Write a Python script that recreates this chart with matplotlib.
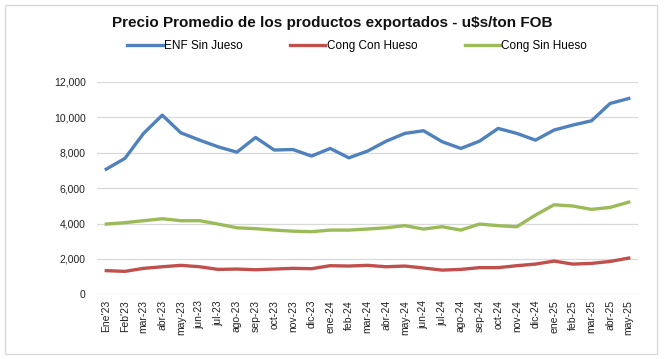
import matplotlib.pyplot as plt
from matplotlib.patches import Rectangle
from matplotlib.ticker import FuncFormatter

plt.rcParams['font.family'] = ['Liberation Sans', 'DejaVu Sans']

meses = ["Ene'23", "Feb'23", "mar-23", "abr-23", "may-23", "jun-23", "jul-23",
         "ago-23", "sep-23", "oct-23", "nov-23", "dic-23", "ene-24", "feb-24",
         "mar-24", "abr-24", "may-24", "jun-24", "jul-24", "ago-24", "sep-24",
         "oct-24", "nov-24", "dic-24", "ene-25", "feb-25", "mar-25", "abr-25",
         "may-25"]

enf_sin_hueso = [7070, 7680, 9090, 10120, 9120, 8710, 8330, 8030, 8860, 8150,
                 8180, 7810, 8240, 7710, 8090, 8650, 9090, 9240, 8620, 8240,
                 8650, 9370, 9090, 8710, 9280, 9560, 9800, 10780, 11060]
cong_con_hueso = [1340, 1300, 1470, 1560, 1640, 1560, 1410, 1430, 1390, 1430,
                  1470, 1450, 1620, 1600, 1640, 1560, 1600, 1490, 1370, 1410,
                  1510, 1510, 1620, 1710, 1880, 1710, 1750, 1860, 2050]
cong_sin_hueso = [3970, 4050, 4160, 4270, 4160, 4160, 3970, 3760, 3710, 3630,
                  3570, 3540, 3630, 3630, 3690, 3760, 3880, 3690, 3820, 3630,
                  3970, 3880, 3820, 4480, 5060, 4990, 4800, 4910, 5210]

fig = plt.figure(figsize=(6.64, 3.59), dpi=100)
fig.patches.append(Rectangle((0.008, 0.015), 0.982, 0.972, transform=fig.transFigure,
                             fill=False, edgecolor='#d9d9d9', linewidth=1))
ax = fig.add_axes([0.146, 0.180, 0.815, 0.592])

x = range(len(meses))
ax.plot(x, enf_sin_hueso, color='#4F81BD', linewidth=2.4, label='ENF Sin Jueso')
ax.plot(x, cong_con_hueso, color='#C0504D', linewidth=2.4, label='Cong Con Hueso')
ax.plot(x, cong_sin_hueso, color='#9BBB59', linewidth=2.4, label='Cong Sin Hueso')

ax.set_xlim(-0.5, len(meses) - 0.5)
ax.set_ylim(0, 12000)
ax.set_yticks(range(0, 12001, 2000))
ax.yaxis.set_major_formatter(FuncFormatter(lambda v, p: f'{int(v):,}'))
ax.set_xticks(list(x))
ax.set_xticklabels(meses, rotation=90)
ax.tick_params(length=0, labelsize=7.5, colors='#222222')
ax.tick_params(axis='y', pad=8)
ax.tick_params(axis='x', pad=4)
ax.grid(axis='y', color='#d9d9d9', linewidth=0.9)
ax.set_axisbelow(True)
for s in ax.spines.values():
    s.set_visible(False)

fig.text(0.5, 0.937, 'Precio Promedio de los productos exportados - u$s/ton FOB',
         ha='center', va='center', fontsize=11, fontweight='bold', color='#111111')
fig.legend(loc='center', bbox_to_anchor=(0.538, 0.872), ncol=3, frameon=False,
           fontsize=8.5, handlelength=3.0, handletextpad=0.1, columnspacing=4.0)

fig.savefig('out.png', dpi=100)
